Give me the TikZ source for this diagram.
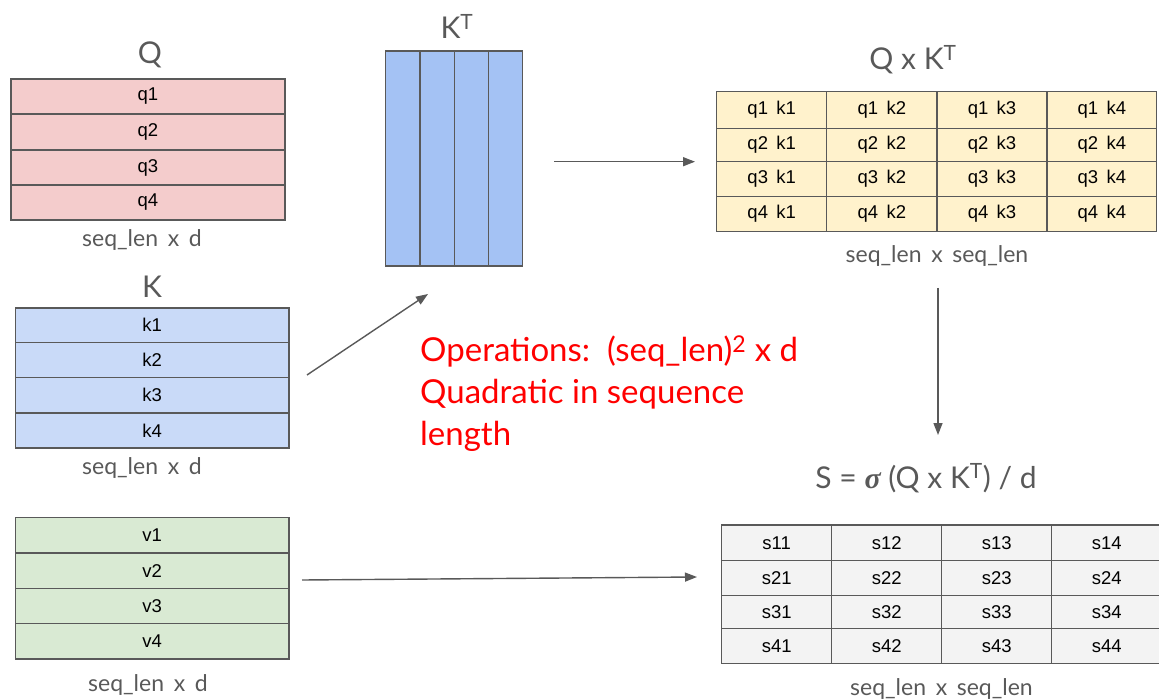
\documentclass[tikz,border=0pt]{standalone}
\usepackage{fontspec}
\setmainfont{Lato}
\newfontfamily\arialf{Liberation Sans}
\newfontfamily\serifg{Liberation Serif}
\usetikzlibrary{arrows.meta}
\definecolor{lbl}{HTML}{595959}
\definecolor{bord}{HTML}{595959}
\definecolor{qfill}{HTML}{F4CCCC}
\definecolor{kfill}{HTML}{C9DAF8}
\definecolor{ktfill}{HTML}{A4C2F4}
\definecolor{vfill}{HTML}{D9EAD3}
\definecolor{pfill}{HTML}{FFF2CC}
\definecolor{sfill}{HTML}{F3F3F3}
\definecolor{redt}{HTML}{FF0000}
\newcommand{\gapx}{\hspace{0.42em}}
\tikzset{
  cell/.style={draw=bord, line width=1.4pt, inner sep=0pt, font=\arialf\fontsize{18.5}{18.5}\selectfont, text=black},
  title/.style={font=\fontsize{30}{30}\selectfont, text=lbl, anchor=base, inner sep=0pt},
  dim/.style={font=\fontsize{23}{23}\selectfont, text=lbl, anchor=base, inner sep=0pt},
  redtxt/.style={font=\fontsize{33}{33}\selectfont, text=redt, anchor=base west, inner sep=0pt},
  arr/.style={-{Triangle[length=12pt,width=9pt]}, draw=lbl, line width=1.4pt},
}
\begin{document}
\begin{tikzpicture}[x=1pt,y=-1pt]
\useasboundingbox (0,0) rectangle (1159,700);
% Q
\foreach \i/\ya/\yb in {1/79/114,2/114/150,3/150/185,4/185/220}{
  \node[cell, fill=qfill, minimum width=274pt, minimum height={(\yb-\ya)*1pt}] (q\i) at (148,{(\ya+\yb)/2}) {q\i};
}
% K
\foreach \i/\ya/\yb in {1/308/342.5,2/342.5/377.5,3/377.5/413,4/413/448}{
  \node[cell, fill=kfill, minimum width=273.5pt, minimum height={(\yb-\ya)*1pt}] (k\i) at (152.25,{(\ya+\yb)/2}) {k\i};
}
% V
\foreach \i/\ya/\yb in {1/517.3/553,2/553/588.3,3/588.3/623.3,4/623.3/659}{
  \node[cell, fill=vfill, minimum width=273.5pt, minimum height={(\yb-\ya)*1pt}] (v\i) at (152.25,{(\ya+\yb)/2}) {v\i};
}
% K^T
\foreach \i/\xa/\xb in {1/385.7/420,2/420/454.3,3/454.3/488.3,4/488.3/522.7}{
  \node[cell, fill=ktfill, minimum width={(\xb-\xa)*1pt}, minimum height=215pt] (kt\i) at ({(\xa+\xb)/2},158.5) {};
}
% Q x K^T
\foreach \r/\ya/\yb in {1/91.7/128.3,2/128.3/161.7,3/161.7/196.7,4/196.7/231.7}{
  \foreach \c/\xa/\xb in {1/716.7/826.7,2/826.7/937,3/937/1047,4/1047/1156.7}{
    \node[cell, fill=pfill, minimum width={(\xb-\xa)*1pt}, minimum height={(\yb-\ya)*1pt}] (p\r\c) at ({(\xa+\xb)/2},{(\ya+\yb)/2}) {q\r\hspace{0.45em}k\c};
  }
}
% S
\foreach \r/\ya/\yb in {1/525/560.7,2/560.7/595.7,3/595.7/628.3,4/628.3/663.3}{
  \foreach \c/\xa/\xb in {1/721.7/831.7,2/831.7/941.7,3/941.7/1051.7,4/1051.7/1161.7}{
    \node[cell, fill=sfill, minimum width={(\xb-\xa)*1pt}, minimum height={(\yb-\ya)*1pt}] (s\r\c) at ({(\xa+\xb)/2},{(\ya+\yb)/2}) {s\r\c};
  }
}
% titles
\node[title] (tQ) at (150,63.3) {Q};
\node[title] (tKT) at (457,38.3) {K\textsuperscript{T}};
\node[title] (tK) at (152,298) {K};
\node[title] (tP) at (913,70) {Q x K\textsuperscript{T}};
\node[title] (tS) at (926,488) {S = {\serifg\bfseries\itshape σ} (Q x K\textsuperscript{T}) / d};
% dimension labels
\node[dim] (dQ) at (142,246.7) {seq\_len\gapx x\gapx d};
\node[dim] (dK) at (142,474) {seq\_len\gapx x\gapx d};
\node[dim] (dV) at (148,691.7) {seq\_len\gapx x\gapx d};
\node[dim] (dP) at (937,263) {seq\_len\gapx x\gapx seq\_len};
\node[dim] (dS) at (941.5,695) {seq\_len\gapx x\gapx seq\_len};
% red text
\node[redtxt] (r1) at (420,361.7) {Operations:\ \ (seq\_len)\textsuperscript{2} x d};
\node[redtxt] (r2) at (420,403) {Quadratic in sequence};
\node[redtxt] (r3) at (420,445) {length};
% arrows
\coordinate (a1s) at (307,375); \coordinate (a1e) at (428,294);
\coordinate (a2s) at (554,161.7); \coordinate (a2e) at (695,161.7);
\coordinate (a3s) at (938,288); \coordinate (a3e) at (938,435);
\coordinate (a4s) at (302,580); \coordinate (a4e) at (697,577);
\draw[arr] (a1s) -- (a1e);
\draw[arr] (a2s) -- (a2e);
\draw[arr] (a3s) -- (a3e);
\draw[arr] (a4s) -- (a4e);
\end{tikzpicture}
\end{document}
